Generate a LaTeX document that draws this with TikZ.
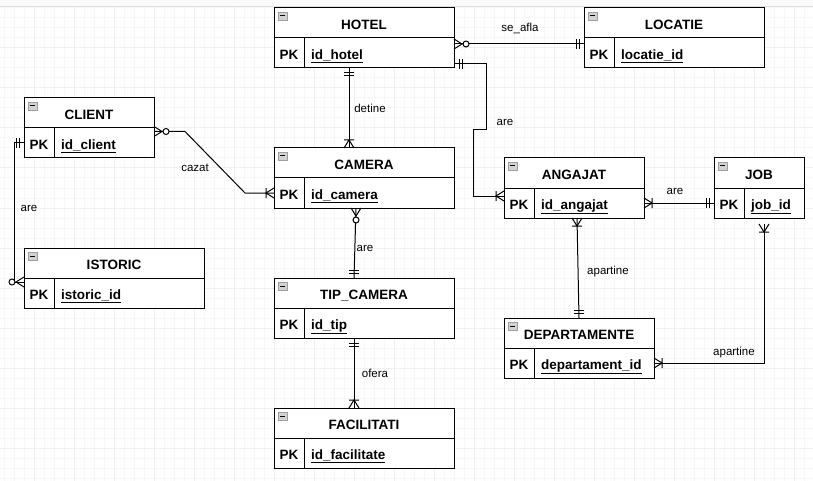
\documentclass[tikz,border=0pt]{standalone}
\usepackage{fontspec}
\setmainfont{Liberation Sans}
\usetikzlibrary{calc}

\tikzset{
  erhead/.style={draw, fill=white, line width=1pt, inner sep=0pt, outer sep=0pt, minimum height=30, text height=14pt, text depth=1.4pt, font=\fontsize{13.5}{16}\selectfont\bfseries},
  erpk/.style={erhead, minimum width=30},
  erkey/.style={erhead, inner xsep=7pt, align=left},
  erlabel/.style={font=\fontsize{11.5}{14}\selectfont},
  erline/.style={line width=1pt},
  ericon/.style={fill=gray!35, draw=gray!75, line width=0.8pt},
  erone/.pic={\draw[erline] (5,-5) -- (5,5) (8,-5) -- (8,5);},
  ermany/.pic={\draw[erline] (0,-5) -- (8,0) -- (0,5) (8,-5) -- (8,5);},
  erzmany/.pic={\draw[erline] (0,-5) -- (8,0) -- (0,5); \draw[erline, fill=white] (12,0) circle (3);},
}

% entity: name, x, y, width, title, key
\newcommand{\erentity}[6]{%
  \node[erhead, minimum width=#4, anchor=north west] (#1) at (#2,#3) {#5};
  \node[erpk, anchor=north west] (#1-pk) at (#1.south west) {PK};
  \pgfmathsetmacro\erkeyw{#4-44}
  \node[erkey, text width=\erkeyw pt, anchor=north west] (#1-id) at (#1-pk.north east) {\underline{#6}};
  \draw[ericon] ($(#1.north west)+(4,4)$) rectangle ++(9,8);
  \draw[line width=1pt] ($(#1.north west)+(6,8)$) -- ++(5,0);
}

\begin{document}
\begin{tikzpicture}[x=1pt, y=-1pt]
  \useasboundingbox (0,0) rectangle (813,481);

  % Background grid
  \fill[gray!4] (0,0) rectangle (813,7);
  \foreach \gx in {4,14,...,813} \draw[gray!6, line width=1pt] (\gx,7) -- (\gx,481);
  \foreach \gy in {8,18,...,481} \draw[gray!6, line width=1pt] (0,\gy) -- (813,\gy);
  \foreach \gx in {34,74,...,813} \draw[gray!12, line width=1pt] (\gx,7) -- (\gx,481);
  \foreach \gy in {48,88,...,481} \draw[gray!12, line width=1pt] (0,\gy) -- (813,\gy);
  \draw[gray!25, line width=1pt] (0,7) -- (813,7);

  % Entities
  \erentity{hotel}{274}{8}{180}{HOTEL}{id\_hotel}
  \erentity{locatie}{584}{8}{180}{LOCATIE}{locatie\_id}
  \erentity{client}{24}{98}{130}{CLIENT}{id\_client}
  \erentity{camera}{274}{148}{180}{CAMERA}{id\_camera}
  \erentity{istoric}{24}{248}{180}{ISTORIC}{istoric\_id}
  \erentity{tipcamera}{274}{278}{180}{TIP\_CAMERA}{id\_tip}
  \erentity{facilitati}{274}{408}{180}{FACILITATI}{id\_facilitate}
  \erentity{angajat}{504}{158}{140}{ANGAJAT}{id\_angajat}
  \erentity{job}{714}{158}{90}{JOB}{job\_id}
  \erentity{departamente}{504}{318}{150}{DEPARTAMENTE}{departament\_id}

  % Relationships
  \draw[erline] ([yshift=9pt]hotel-id.east) -- ([yshift=9pt]locatie-pk.west);
  \draw[erline] ([yshift=-11pt]hotel-id.east) -| (486,130) -| (473,196) -- ([yshift=7pt]angajat-pk.west);
  \draw[erline] ([xshift=45pt]hotel-id.south west) -- ([xshift=-15pt]camera.north);
  \draw[erline] ([yshift=11.5pt]client-id.east) -- ++(31,0) -- (245,193) -- (camera-pk.west);
  \draw[erline] (client-pk.west) -| (14,282) -- ([yshift=11pt]istoric-pk.west);
  \draw[erline] ([xshift=52pt]camera-id.south west) -- ([xshift=-10pt]tipcamera.north);
  \draw[erline] ([xshift=50pt]tipcamera-id.south west) -- ([xshift=-10pt]facilitati.north);
  \draw[erline] (angajat-id.east) -- (job-pk.west);
  \draw[erline] ([xshift=43pt]angajat-id.south west) -- (departamente.north);
  \draw[erline] ([xshift=20pt,yshift=-6pt]job-id.south west) |- (departamente-id.east);

  % Cardinality ends
  \pic at ([yshift=9pt]hotel-id.east) {erzmany};
  \pic[rotate=180] at ([yshift=9pt]locatie-pk.west) {erone};
  \pic at ([yshift=-11pt]hotel-id.east) {erone};
  \pic[rotate=180] at ([yshift=7pt]angajat-pk.west) {ermany};
  \pic[rotate=-90] at ([xshift=45pt]hotel-id.south west) {erone};
  \pic[rotate=90] at ([xshift=-15pt]camera.north) {ermany};
  \pic at ([yshift=11.5pt]client-id.east) {erzmany};
  \pic[rotate=180] at (camera-pk.west) {ermany};
  \pic[rotate=180] at (client-pk.west) {erone};
  \pic[rotate=180] at ([yshift=11pt]istoric-pk.west) {erzmany};
  \pic[rotate=-90] at ([xshift=52pt]camera-id.south west) {erzmany};
  \pic[rotate=90] at ([xshift=-10pt]tipcamera.north) {erone};
  \pic[rotate=-90] at ([xshift=50pt]tipcamera-id.south west) {erone};
  \pic[rotate=90] at ([xshift=-10pt]facilitati.north) {ermany};
  \pic at (angajat-id.east) {ermany};
  \pic[rotate=180] at (job-pk.west) {erone};
  \pic[rotate=-90] at ([xshift=43pt]angajat-id.south west) {ermany};
  \pic[rotate=90] at (departamente.north) {erone};
  \pic[rotate=-90] at ([xshift=20pt,yshift=-6pt]job-id.south west) {ermany};
  \pic at (departamente-id.east) {ermany};

  % Labels
  \node[erlabel] (lseafla) at (520,28) {se\_afla};
  \node[erlabel] (ldetine) at (370,108) {detine};
  \node[erlabel] (lare1) at (505,122) {are};
  \node[erlabel] (lcazat) at (195,168) {cazat};
  \node[erlabel] (lare2) at (29,208) {are};
  \node[erlabel] (lare3) at (675,191) {are};
  \node[erlabel] (lare4) at (365,248) {are};
  \node[erlabel] (lapartine1) at (608,272) {apartine};
  \node[erlabel] (lofera) at (375,373) {ofera};
  \node[erlabel] (lapartine2) at (734,353) {apartine};
\end{tikzpicture}
\end{document}
